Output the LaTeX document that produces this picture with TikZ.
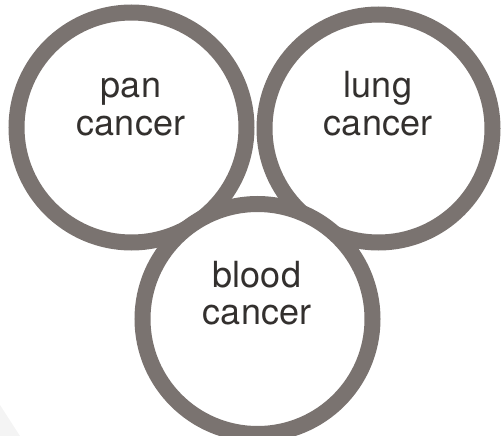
\documentclass[tikz,border=0pt]{standalone}
\usepackage{fontspec}
\setmainfont{TeX Gyre Heros}
\definecolor{ringgray}{RGB}{122,115,112}
\definecolor{txtgray}{RGB}{51,48,46}
\definecolor{faint}{RGB}{244,244,244}
\begin{document}
\begin{tikzpicture}[x=1pt,y=-1pt,
  ring/.style={circle, draw=ringgray, line width=16pt, fill=white, inner sep=0pt, minimum size=230pt},
  lbl/.style={anchor=base, text=txtgray, inner sep=0pt, font=\fontsize{36}{38}\selectfont}]
\useasboundingbox (0,0) rectangle (503,436);
\fill[faint] (0,405) -- (20,436) -- (0,436) -- cycle;
\node[ring] (pan) at (131.5,127.5) {};
\node[ring, minimum size=228pt] (lung) at (378.5,128.5) {};
\node[ring] (blood) at (257.5,319) {};
\node[lbl] (pan1) at (131,97) {pan};
\node[lbl] (pan2) at (131,135) {cancer};
\node[lbl] (lung1) at (378,97) {lung};
\node[lbl] (lung2) at (378,135) {cancer};
\node[lbl] (blood1) at (257,287) {blood};
\node[lbl] (blood2) at (257,324) {cancer};
\end{tikzpicture}
\end{document}
